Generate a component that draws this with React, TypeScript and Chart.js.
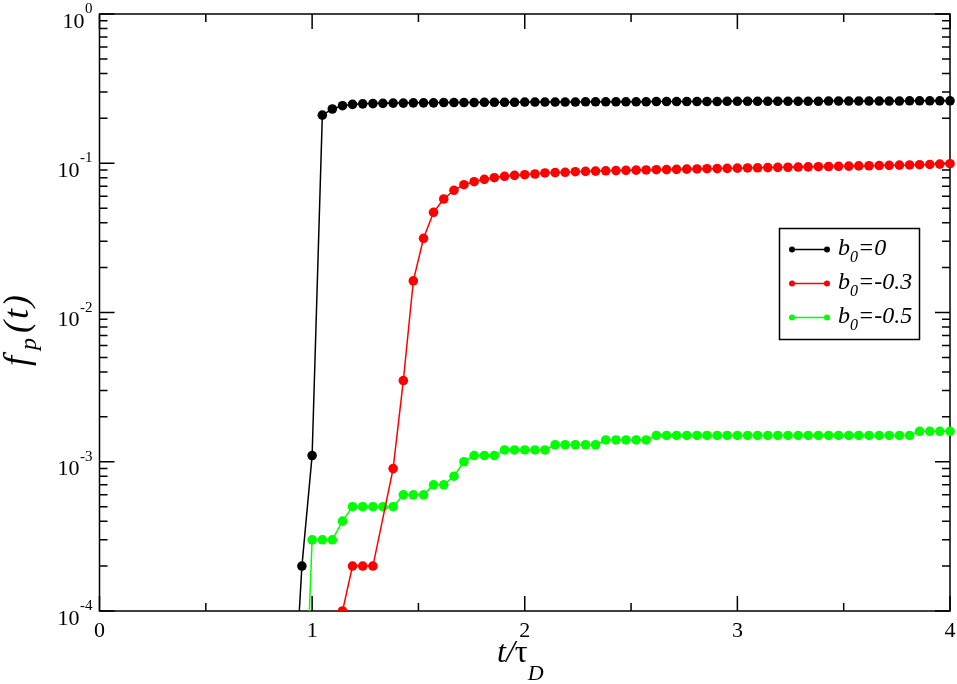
import { useEffect, useRef } from 'react';
import { Chart, registerables } from 'chart.js';

Chart.register(...registerables);

// time axis values t/tau_D
const tValues = [
  0.905, 0.952, 1.0, 1.048, 1.095, 1.143, 1.19, 1.238, 1.286, 1.333,
  1.381, 1.429, 1.476, 1.524, 1.571, 1.619, 1.667, 1.714, 1.762, 1.81,
  1.857, 1.905, 1.952, 2.0, 2.048, 2.095, 2.143, 2.19, 2.238, 2.286,
  2.333, 2.381, 2.429, 2.476, 2.524, 2.571, 2.619, 2.667, 2.714, 2.762,
  2.81, 2.857, 2.905, 2.952, 3.0, 3.048, 3.095, 3.143, 3.19, 3.238,
  3.286, 3.333, 3.381, 3.429, 3.476, 3.524, 3.571, 3.619, 3.667, 3.714,
  3.762, 3.81, 3.857, 3.905, 3.952, 4.0,
];

// b0 = 0
const seriesB0 = [
  1.4e-5, 2.0e-4, 1.1e-3, 0.21, 0.231, 0.243, 0.248, 0.25, 0.251, 0.252,
  0.253, 0.253, 0.254, 0.254, 0.254, 0.255, 0.255, 0.255, 0.255, 0.256,
  0.256, 0.256, 0.256, 0.257, 0.257, 0.257, 0.257, 0.257, 0.257, 0.258,
  0.258, 0.258, 0.258, 0.258, 0.258, 0.258, 0.259, 0.259, 0.259, 0.259,
  0.259, 0.259, 0.259, 0.26, 0.26, 0.26, 0.26, 0.26, 0.26, 0.26,
  0.26, 0.26, 0.26, 0.261, 0.261, 0.261, 0.261, 0.261, 0.261, 0.261,
  0.261, 0.262, 0.262, 0.262, 0.262, 0.262,
];

// b0 = -0.3
const seriesB03 = [
  null, null, null, null, null, 1.0e-4, 2.0e-4, 2.0e-4, 2.0e-4, null,
  9.0e-4, 3.5e-3, 0.0163, 0.0314, 0.0469, 0.0576, 0.0659, 0.0718, 0.0752, 0.078,
  0.08, 0.0818, 0.083, 0.0838, 0.0847, 0.0861, 0.0866, 0.087, 0.0878, 0.0882,
  0.0886, 0.089, 0.0893, 0.0896, 0.0899, 0.0902, 0.0905, 0.0907, 0.091, 0.0913,
  0.0916, 0.0919, 0.0921, 0.0924, 0.0927, 0.093, 0.0932, 0.0935, 0.0938, 0.094,
  0.0943, 0.0946, 0.0948, 0.0951, 0.0954, 0.0957, 0.096, 0.0962, 0.0965, 0.0968,
  0.0971, 0.0974, 0.0978, 0.0982, 0.0987, 0.0993,
];

// b0 = -0.5
const seriesB05 = [
  null, 5.0e-6, 3.0e-4, 3.0e-4, 3.0e-4, 4.0e-4, 5.0e-4, 5.0e-4, 5.0e-4, 5.0e-4,
  5.0e-4, 6.0e-4, 6.0e-4, 6.0e-4, 7.0e-4, 7.0e-4, 8.0e-4, 1.0e-3, 1.1e-3, 1.1e-3,
  1.1e-3, 1.2e-3, 1.2e-3, 1.2e-3, 1.2e-3, 1.2e-3, 1.3e-3, 1.3e-3, 1.3e-3, 1.3e-3,
  1.3e-3, 1.4e-3, 1.4e-3, 1.4e-3, 1.4e-3, 1.4e-3, 1.5e-3, 1.5e-3, 1.5e-3, 1.5e-3,
  1.5e-3, 1.5e-3, 1.5e-3, 1.5e-3, 1.5e-3, 1.5e-3, 1.5e-3, 1.5e-3, 1.5e-3, 1.5e-3,
  1.5e-3, 1.5e-3, 1.5e-3, 1.5e-3, 1.5e-3, 1.5e-3, 1.5e-3, 1.5e-3, 1.5e-3, 1.5e-3,
  1.5e-3, 1.5e-3, 1.6e-3, 1.6e-3, 1.6e-3, 1.6e-3,
];

const seriesColors = ['#000000', '#ff0000', '#00ff00'];
const legendSymbol = 'b';
const legendSub = '0';
const legendRest = ['=0', '=-0.3', '=-0.5'];

const xMajorTicks = [0, 1, 2, 3, 4];
const xMinorTicks = [0.5, 1.5, 2.5, 3.5];
const xTickLabels = ['0', '1', '2', '3', '4'];
const yMajorTicks = [1, 0.1, 0.01, 0.001, 0.0001];
const yTickExponents = ['0', '-1', '-2', '-3', '-4'];
const yMinorMultipliers = [2, 3, 4, 5, 6, 7, 8, 9];

const FONT = '"Liberation Serif", "DejaVu Serif", serif';

const gracePlugin = {
  id: 'graceFrame',
  beforeDatasetsDraw(chart: any) {
    const { ctx, chartArea } = chart;
    const xs = chart.scales.x;
    const ys = chart.scales.y;
    const { left, right, top, bottom } = chartArea;
    ctx.save();
    ctx.strokeStyle = '#000';
    ctx.lineWidth = 1.5;
    ctx.strokeRect(left, top, right - left, bottom - top);
    const major = 15;
    const minor = 8;
    ctx.beginPath();
    const vtick = (v: number, len: number) => {
      const px = xs.getPixelForValue(v);
      ctx.moveTo(px, bottom);
      ctx.lineTo(px, bottom - len);
      ctx.moveTo(px, top);
      ctx.lineTo(px, top + len);
    };
    const htick = (v: number, len: number) => {
      const py = ys.getPixelForValue(v);
      ctx.moveTo(left, py);
      ctx.lineTo(left + len, py);
      ctx.moveTo(right, py);
      ctx.lineTo(right - len, py);
    };
    xMajorTicks.forEach((v) => vtick(v, major));
    xMinorTicks.forEach((v) => vtick(v, minor));
    yMajorTicks.forEach((v) => htick(v, major));
    yMajorTicks.slice(1).forEach((d) => {
      yMinorMultipliers.forEach((m) => htick(d * m, minor));
    });
    ctx.stroke();
    ctx.restore();
  },
  afterDraw(chart: any) {
    const { ctx, chartArea } = chart;
    const xs = chart.scales.x;
    const ys = chart.scales.y;
    ctx.save();
    ctx.fillStyle = '#000';
    ctx.textBaseline = 'alphabetic';

    // x tick labels
    ctx.font = `22px ${FONT}`;
    ctx.textAlign = 'center';
    xMajorTicks.forEach((v, i) => {
      ctx.fillText(xTickLabels[i], xs.getPixelForValue(v), chartArea.bottom + 26);
    });

    // y tick labels 10^n
    const rightX = chartArea.left - 7;
    yMajorTicks.forEach((v, i) => {
      const py = ys.getPixelForValue(v);
      ctx.font = `15px ${FONT}`;
      const ew = ctx.measureText(yTickExponents[i]).width;
      ctx.textAlign = 'left';
      ctx.fillText(yTickExponents[i], rightX - ew, py - 1);
      ctx.font = `22px ${FONT}`;
      ctx.textAlign = 'right';
      ctx.fillText('10', rightX - ew - 0.5, py + 13.5);
    });

    // x axis title t/τ_D
    ctx.textAlign = 'left';
    let x = 497;
    const by = 662;
    ctx.font = `italic 32px ${FONT}`;
    ctx.fillText('t/', x, by);
    x += ctx.measureText('t/').width;
    ctx.font = `32px ${FONT}`;
    ctx.fillText('τ', x, by);
    x += ctx.measureText('τ').width;
    ctx.font = `italic 22px ${FONT}`;
    ctx.fillText('D', x, by + 18);

    // y axis title f_p(t)
    ctx.save();
    ctx.translate(28, 366);
    ctx.rotate(-Math.PI / 2);
    ctx.font = `italic 36px ${FONT}`;
    ctx.fillText('f', 0, 0);
    ctx.font = `italic 24px ${FONT}`;
    ctx.fillText('p', 16, 8);
    ctx.font = `italic 36px ${FONT}`;
    let yx = 33;
    ['(', 't', ')'].forEach((ch) => {
      ctx.fillText(ch, yx, 0);
      yx += ctx.measureText(ch).width + 2;
    });
    ctx.restore();

    // legend
    const bx = 779.5;
    const bt = 228.5;
    ctx.lineWidth = 1.5;
    ctx.strokeStyle = '#000';
    ctx.strokeRect(bx, bt, 140, 111);
    const rowY = [249.5, 283.5, 317.5];
    legendRest.forEach((rest, i) => {
      const ry = rowY[i];
      const c = seriesColors[i];
      ctx.strokeStyle = c;
      ctx.fillStyle = c;
      ctx.lineWidth = 1.5;
      ctx.beginPath();
      ctx.moveTo(792, ry);
      ctx.lineTo(827, ry);
      ctx.stroke();
      [792, 827].forEach((px) => {
        ctx.beginPath();
        ctx.arc(px, ry, 3, 0, Math.PI * 2);
        ctx.fill();
      });
      ctx.fillStyle = '#000';
      let lx = 838;
      const lb = ry + 5;
      ctx.font = `italic 24px ${FONT}`;
      ctx.fillText(legendSymbol, lx, lb);
      lx += ctx.measureText(legendSymbol).width;
      ctx.font = `italic 16px ${FONT}`;
      ctx.fillText(legendSub, lx, lb + 7);
      lx += ctx.measureText(legendSub).width;
      ctx.font = `italic 24px ${FONT}`;
      ctx.fillText(rest, lx, lb);
    });
    ctx.restore();
  },
};

function buildData(series: (number | null)[]) {
  return tValues
    .map((t, i) => ({ x: t, y: series[i] }))
    .filter((p) => p.y !== null) as { x: number; y: number }[];
}

export default function App() {
  const canvasRef = useRef<HTMLCanvasElement | null>(null);

  useEffect(() => {
    const canvas = canvasRef.current;
    if (!canvas) return;
    const allSeries = [seriesB0, seriesB03, seriesB05];
    const chart = new Chart(canvas, {
      type: 'line',
      data: {
        datasets: allSeries.map((s, i) => ({
          label: legendSymbol + legendSub + legendRest[i],
          data: buildData(s),
          borderColor: seriesColors[i],
          backgroundColor: seriesColors[i],
          pointBackgroundColor: seriesColors[i],
          pointBorderWidth: 0,
          pointRadius: 4.8,
          borderWidth: 1.5,
          tension: 0,
          fill: false,
          clip: { left: 6, right: 6, top: 6, bottom: 0 } as any,
        })),
      },
      options: {
        responsive: false,
        animation: false,
        devicePixelRatio: 1,
        layout: { padding: { left: 99.5, right: 7, top: 14, bottom: 73 } },
        plugins: {
          legend: { display: false },
          tooltip: { enabled: false },
        },
        scales: {
          x: { type: 'linear', min: 0, max: 4, display: false },
          y: { type: 'logarithmic', min: 1e-4, max: 1, display: false },
        },
      },
      plugins: [gracePlugin],
    });
    return () => chart.destroy();
  }, []);

  return (
    <div style={{ position: 'absolute', left: 0, top: 0, width: 957, height: 684, background: '#fff' }}>
      <canvas ref={canvasRef} width={957} height={684} style={{ width: 957, height: 684 }} />
    </div>
  );
}
